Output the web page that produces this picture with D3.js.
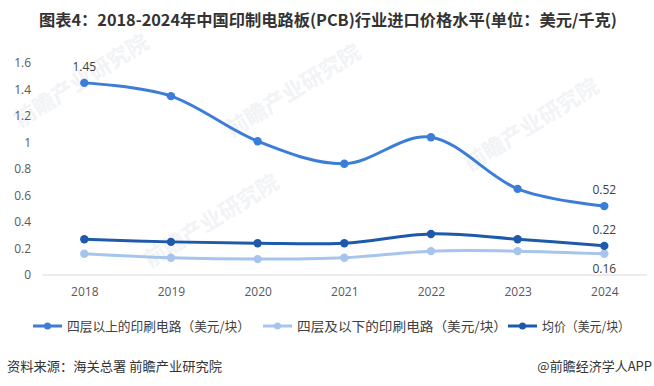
<!DOCTYPE html>
<html>
<head>
<meta charset="utf-8">
<script src="https://cdn.jsdelivr.net/npm/d3@7/dist/d3.min.js"></script>
<style>
  html, body { margin: 0; padding: 0; background: #fff; }
  svg { display: block; font-family: "Noto Sans CJK SC", "Noto Sans", sans-serif; }
</style>
</head>
<body>
<svg id="chart" width="654" height="386"></svg>
<script>
const years = ["2018", "2019", "2020", "2021", "2022", "2023", "2024"];
const above4 = [1.45, 1.35, 1.01, 0.84, 1.04, 0.65, 0.52];
const below4 = [0.16, 0.13, 0.12, 0.13, 0.18, 0.18, 0.16];
const avgPrice = [0.27, 0.25, 0.24, 0.24, 0.31, 0.27, 0.22];
const yTicks = [0, 0.2, 0.4, 0.6, 0.8, 1, 1.2, 1.4, 1.6];
const seriesNames = ["四层以上的印刷电路（美元/块）", "四层及以下的印刷电路（美元/块）", "均价（美元/块）"];
const titleText = "图表4：2018-2024年中国印制电路板(PCB)行业进口价格水平(单位：美元/千克)";
const sourceText = "资料来源：海关总署 前瞻产业研究院";
const brandText = "@前瞻经济学人APP";
const watermarkText = "前瞻产业研究院";

const svg = d3.select("#chart");

// faint watermarks (kept fully inside the canvas)
const wm = svg.append("g").attr("fill", "#f1f3f6").attr("font-weight", 700).attr("font-size", 22);
[[20, 128], [150, 268], [232, 138], [470, 172]].forEach(([x, y]) => {
  wm.append("text").attr("transform", `translate(${x},${y}) rotate(-32)`).text(watermarkText);
});

const x = d3.scalePoint().domain(years).range([84.3, 604.3]);
const y = d3.scaleLinear().domain([0, 1.6]).range([275, 63]);

// title
svg.append("text")
  .attr("x", 39).attr("y", 26)
  .attr("font-size", 16).attr("font-weight", 700).attr("fill", "#333")
  .attr("textLength", 578).attr("lengthAdjust", "spacingAndGlyphs")
  .text(titleText);

// y axis labels
const yAxis = d3.axisLeft(y).tickValues(yTicks).tickSize(0).tickPadding(0)
  .tickFormat(d => d3.format("~g")(d));
const gy = svg.append("g").attr("transform", "translate(31,0)").call(yAxis);
gy.select(".domain").remove();
gy.selectAll("text").attr("font-size", 12).attr("fill", "#595959")
  .attr("font-family", "'Open Sans', 'Noto Sans', sans-serif");

// x axis
const xAxis = d3.axisBottom(x).tickSize(0).tickPadding(12);
const gx = svg.append("g").attr("transform", "translate(0,275)").call(xAxis);
gx.select(".domain").remove();
gx.append("line").attr("x1", 43).attr("x2", 647).attr("y1", 0).attr("y2", 0)
  .attr("stroke", "#d9d9d9").attr("stroke-width", 1);
gx.selectAll("text").attr("font-size", 12).attr("fill", "#595959")
  .attr("font-family", "'Open Sans', 'Noto Sans', sans-serif");

const colors = ["#3b7dd8", "#a6c4ec", "#1e5aab"];
const data = [above4, below4, avgPrice];
const line = d3.line().x((d, i) => x(years[i])).y(d => y(d)).curve(d3.curveCatmullRom.alpha(0));

// draw order: light, dark, top
[1, 2, 0].forEach(si => {
  const g = svg.append("g");
  g.append("path").datum(data[si]).attr("d", line)
    .attr("fill", "none").attr("stroke", colors[si]).attr("stroke-width", 3)
    .attr("stroke-linecap", "round");
  g.selectAll("circle").data(data[si]).join("circle")
    .attr("cx", (d, i) => x(years[i])).attr("cy", d => y(d)).attr("r", 4.2)
    .attr("fill", colors[si]);
});

// data labels
const labels = [
  { v: above4[0], yr: years[0], dy: -12 },
  { v: above4[6], yr: years[6], dy: -12 },
  { v: avgPrice[6], yr: years[6], dy: -12 },
  { v: below4[6], yr: years[6], dy: 19 }
];
svg.append("g").selectAll("text").data(labels).join("text")
  .attr("x", d => x(d.yr)).attr("y", d => y(d.v) + d.dy)
  .attr("text-anchor", "middle").attr("font-size", 12).attr("fill", "#404040")
  .attr("font-family", "'Open Sans', 'Noto Sans', sans-serif")
  .text(d => d3.format(".2f")(d.v));

// legend
const legendItems = [
  { x1: 33, x2: 62, tx: 67, tw: 183 },
  { x1: 263, x2: 292, tx: 297, tw: 210 },
  { x1: 508, x2: 537, tx: 542, tw: 88 }
];
const lg = svg.append("g");
legendItems.forEach((it, i) => {
  lg.append("line").attr("x1", it.x1).attr("x2", it.x2).attr("y1", 326).attr("y2", 326)
    .attr("stroke", colors[i]).attr("stroke-width", 3);
  lg.append("circle").attr("cx", (it.x1 + it.x2) / 2).attr("cy", 326).attr("r", 3.5).attr("fill", colors[i]);
  lg.append("text").attr("x", it.tx).attr("y", 330.5)
    .attr("font-size", 13).attr("fill", "#404040")
    .attr("textLength", it.tw).attr("lengthAdjust", "spacingAndGlyphs")
    .text(seriesNames[i]);
});

// footer
svg.append("text").attr("x", 7).attr("y", 370.5).attr("font-size", 13).attr("fill", "#333")
  .attr("textLength", 215).attr("lengthAdjust", "spacingAndGlyphs").text(sourceText);
svg.append("text").attr("x", 652).attr("y", 370.5).attr("font-size", 13).attr("fill", "#333")
  .attr("text-anchor", "end").text(brandText);
</script>
</body>
</html>
